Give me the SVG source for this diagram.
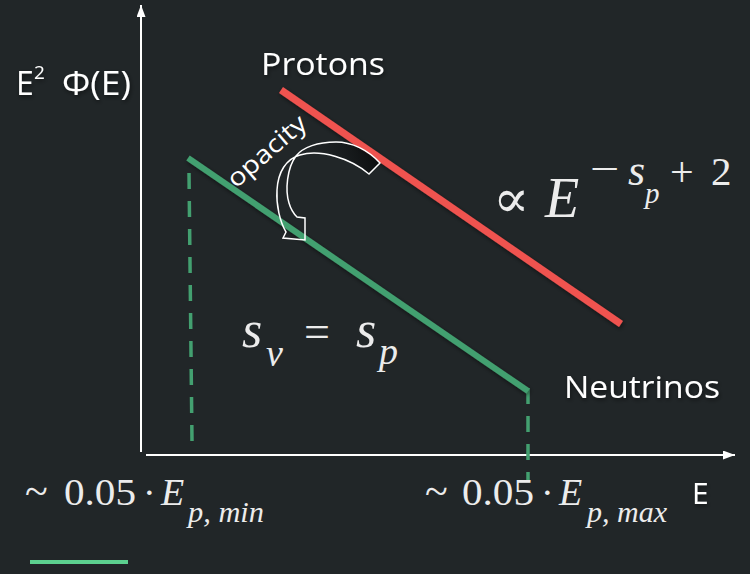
<svg xmlns="http://www.w3.org/2000/svg" width="750" height="574" viewBox="0 0 750 574">
<defs>
<style>
.sans{font-family:"Open Sans","Noto Sans","Liberation Sans",sans-serif;fill:#ffffff;}
.math{font-family:"Liberation Serif","DejaVu Serif",serif;fill:#ececec;}
.it{font-style:italic;}
.axis{stroke:#ffffff;stroke-width:2;fill:none;}
.dash{stroke:#43a070;stroke-width:3.5;stroke-dasharray:16 12;fill:none;}
</style>
<marker id="ah" viewBox="0 0 12 9" refX="12" refY="4.5" markerWidth="12" markerHeight="9" markerUnits="userSpaceOnUse" orient="auto"><path d="M0,0 L12,4.5 L0,9 Z" fill="#ffffff"/></marker>
<filter id="sh" x="-20%" y="-20%" width="140%" height="140%"><feDropShadow dx="1" dy="2" stdDeviation="2" flood-color="#000" flood-opacity="0.5"/></filter>
<linearGradient id="ag" gradientUnits="userSpaceOnUse" x1="378" y1="165" x2="295" y2="190">
<stop offset="0" stop-color="#0b0d0e" stop-opacity="0.95"/>
<stop offset="1" stop-color="#22272a" stop-opacity="0"/>
</linearGradient>
</defs>
<rect width="750" height="574" fill="#212628"/>

<g id="axes">
<line class="axis" x1="141" y1="452" x2="141" y2="5" marker-end="url(#ah)"/>
<line class="axis" x1="146" y1="455" x2="735" y2="455" marker-end="url(#ah)"/>
</g>

<g id="dashes">
<line class="dash" x1="189" y1="173" x2="192" y2="441"/>
<line class="dash" x1="528" y1="388" x2="528" y2="480"/>
</g>

<g id="connectors" filter="url(#sh)">
<line id="protons-line" x1="281" y1="90" x2="621" y2="324" stroke="#ef5350" stroke-width="7"/>
<line id="neutrino-line" x1="188" y1="158" x2="528" y2="391" stroke="#43a070" stroke-width="6"/>
</g>

<g id="opacity-arrow">
<path d="M380,163 C368,150 352,142 336,142 C318,142 303,147 296,156 C287,168 285,190 289,203 C291,210 294,214 297,217 L305,218 L305,240 L283,238 L286,232 C280,222 276,205 277,190 C278,172 286,159 300,155 C320,149 350,158 369,174 Z" fill="url(#ag)" stroke="#ffffff" stroke-width="1.5" stroke-linejoin="miter"/>
<text class="sans" font-size="25" textLength="96" lengthAdjust="spacingAndGlyphs" transform="translate(236,189) rotate(-41)">opacity</text>
</g>

<g id="ylabel" filter="url(#sh)">
<text class="sans" font-size="32" y="95"><tspan x="16">E</tspan><tspan x="34" y="79" font-size="19">2</tspan><tspan x="62" y="95" textLength="69" lengthAdjust="spacingAndGlyphs">Φ(E)</tspan></text>
</g>

<g id="protons" filter="url(#sh)">
<text class="sans" font-size="31" x="261" y="75" textLength="124" lengthAdjust="spacingAndGlyphs">Protons</text>
</g>

<g id="neutrinos" filter="url(#sh)">
<text class="sans" font-size="31" x="564" y="398" textLength="156" lengthAdjust="spacingAndGlyphs">Neutrinos</text>
</g>

<g id="xlabel" filter="url(#sh)">
<text class="sans" font-size="30" x="692" y="504">E</text>
</g>

<g id="proportional">
<text class="math" font-size="54" x="493" y="217">∝</text>
<text class="math it" font-size="56" x="545" y="217">E</text>
<text class="math" font-size="40" transform="translate(590,182) scale(1.3,1)">−</text>
<text class="math it" font-size="44" x="628" y="185">s</text>
<text class="math it" font-size="29" x="645" y="203">p</text>
<text class="math" font-size="42" x="670" y="186">+</text>
<text class="math" font-size="41" x="711" y="185">2</text>
</g>

<g id="slopes">
<text class="math it" font-size="52" x="242" y="347">s</text>
<text class="math it" font-size="38" x="266" y="366">ν</text>
<text class="math" font-size="46" x="304" y="347">=</text>
<text class="math it" font-size="52" x="356" y="347">s</text>
<text class="math it" font-size="38" x="379" y="364">p</text>
</g>

<g id="emin">
<text class="math" font-size="38" y="505"><tspan x="25" font-size="42">~</tspan><tspan x="64" textLength="72" lengthAdjust="spacingAndGlyphs">0.05</tspan><tspan x="143">·</tspan><tspan x="161" font-style="italic">E</tspan></text>
<text class="math it" font-size="29" x="188" y="522" textLength="76" lengthAdjust="spacingAndGlyphs">p, min</text>
</g>

<g id="emax">
<text class="math" font-size="38" y="505"><tspan x="425" font-size="42">~</tspan><tspan x="462" textLength="72" lengthAdjust="spacingAndGlyphs">0.05</tspan><tspan x="541">·</tspan><tspan x="559" font-style="italic">E</tspan></text>
<text class="math it" font-size="29" x="587" y="522" textLength="80" lengthAdjust="spacingAndGlyphs">p, max</text>
</g>

<line id="legend-line" x1="30" y1="562" x2="128" y2="562" stroke="#5cd08f" stroke-width="4"/>
</svg>
